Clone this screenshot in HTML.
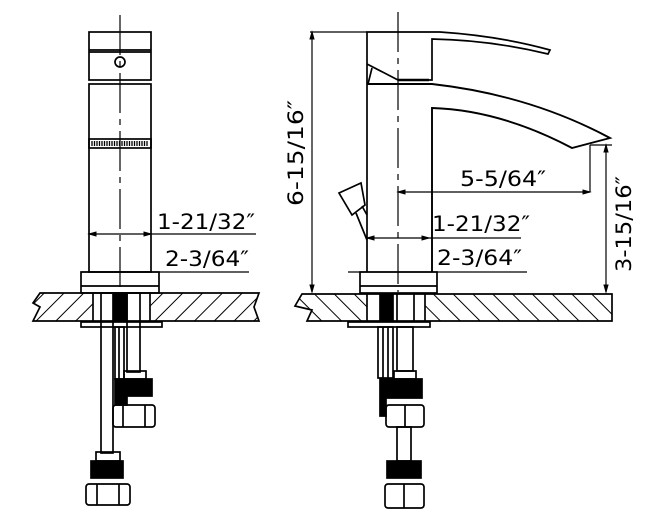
<!DOCTYPE html>
<html><head><style>
html,body{margin:0;padding:0;background:#fff;}
svg{display:block;}
text{font-family:"DejaVu Sans","Liberation Sans",sans-serif;font-size:21px;fill:#000;}
</style></head><body>
<svg width="669" height="522" viewBox="0 0 669 522" xmlns="http://www.w3.org/2000/svg">
<defs>
<pattern id="hl" width="14" height="14" patternUnits="userSpaceOnUse" patternTransform="rotate(45)">
<line x1="0" y1="0" x2="0" y2="14" stroke="#000" stroke-width="2"/></pattern>
<pattern id="hr" width="14" height="14" patternUnits="userSpaceOnUse" patternTransform="rotate(-45)">
<line x1="0" y1="0" x2="0" y2="14" stroke="#000" stroke-width="2"/></pattern>
</defs>
<g fill="none" stroke="#000" stroke-width="1.7">
<!-- LEFT VIEW -->
<line x1="120" y1="15" x2="120" y2="292" stroke-dasharray="40,6,6,6" stroke-width="1.2"/>
<rect x="89" y="32" width="62" height="48"/>
<line x1="89" y1="50" x2="151" y2="50"/>
<line x1="89" y1="52" x2="151" y2="52"/>
<circle cx="120" cy="62" r="5"/>
<rect x="89" y="84" width="62" height="188"/>
<rect x="89" y="139" width="62" height="9"/>
<g stroke-width="1.3">
<path d="M92 141 V146 M94.5 141 V146 M97 141 V146 M99.5 141 V146 M102 141 V146 M104.5 141 V146 M107 141 V146 M109.5 141 V146 M112 141 V146 M114.5 141 V146 M117 141 V146 M119.5 141 V146 M122 141 V146 M124.5 141 V146 M127 141 V146 M129.5 141 V146 M132 141 V146 M134.5 141 V146 M137 141 V146 M139.5 141 V146 M142 141 V146 M144.5 141 V146 M147 141 V146"/>
</g>
<line x1="89" y1="234" x2="256" y2="234" stroke-width="1.2"/>
<line x1="81" y1="272" x2="249" y2="272" stroke-width="1.2"/>
<rect x="81" y="272" width="78" height="21"/>
<line x1="81" y1="286" x2="159" y2="286"/>
<!-- left counter -->
<path d="M40 293 H93 V321 H33 L40 307 L33 303 Z" fill="url(#hl)"/>
<path d="M150 293 H259 L254 307 L259 321 H150 Z" fill="url(#hl)"/>
<line x1="93" y1="293" x2="150" y2="293"/>
<line x1="93" y1="321" x2="150" y2="321"/>
<rect x="81" y="322" width="81" height="5"/>
<rect x="101" y="293" width="12" height="160"/>
<rect x="114" y="293" width="13" height="28" fill="#000"/>
<rect x="127" y="293" width="13" height="79"/>
<rect x="115" y="327" width="9" height="52"/>
<line x1="119" y1="327" x2="119" y2="379"/>
<rect x="124" y="371" width="22" height="8"/>
<path d="M115 379 H152 V396 H127 V405 H115 Z" fill="#000"/>
<rect x="113" y="405" width="42" height="22" rx="3"/>
<line x1="123" y1="405" x2="123" y2="427"/><line x1="145" y1="405" x2="145" y2="427"/>
<rect x="96" y="452" width="24" height="9"/>
<rect x="91" y="461" width="32" height="17" fill="#000"/>
<rect x="86" y="484" width="44" height="21" rx="3"/>
<line x1="97" y1="484" x2="97" y2="505"/><line x1="119" y1="484" x2="119" y2="505"/>

<!-- RIGHT VIEW -->
<line x1="398" y1="12" x2="398" y2="292" stroke-dasharray="40,6,6,6" stroke-width="1.2"/>
<path d="M367 84 V32 H440 Q500 36 550 50 L548 54 Q490 40 432 39 V80 H398 L367 64"/>
<line x1="398" y1="80" x2="429" y2="80" stroke-width="2.4"/>
<line x1="372" y1="68" x2="368" y2="84"/>
<path d="M367 84 H432 Q530 95 610 138 L572 148 Q500 110 432 108 V272" stroke-width="1.9"/>
<line x1="367" y1="84" x2="367" y2="272"/>
<path d="M339 193 L361 183 L365 205 L352 215 Z"/>
<path d="M356 213 L367 240 M362 206 L367 215"/>
<!-- dims -->
<line x1="310" y1="32" x2="367" y2="32" stroke-width="1.2"/>
<line x1="312" y1="32" x2="312" y2="292" stroke-width="1.2"/>
<line x1="590" y1="145" x2="612" y2="145" stroke-width="1.2"/>
<line x1="606" y1="145" x2="606" y2="292" stroke-width="1.2"/>
<line x1="398" y1="192" x2="590" y2="192" stroke-width="1.2"/>
<line x1="590" y1="145" x2="590" y2="192" stroke-width="1.2"/>
<line x1="367" y1="238" x2="521" y2="238" stroke-width="1.2"/>
<line x1="348" y1="272" x2="527" y2="272" stroke-width="1.2"/>
<rect x="360" y="272" width="77" height="21"/>
<line x1="360" y1="286" x2="437" y2="286"/>
<!-- right counter -->
<path d="M302 294 H367 V321 H307 L312 310 L295 306 Z" fill="url(#hr)"/>
<path d="M425 294 H612 V321 H425 Z" fill="url(#hr)"/>
<line x1="367" y1="294" x2="425" y2="294"/>
<line x1="367" y1="321" x2="425" y2="321"/>
<rect x="348" y="322" width="82" height="5"/>
<rect x="380" y="294" width="13" height="27" fill="#000"/>
<line x1="397" y1="294" x2="397" y2="322"/><line x1="414" y1="294" x2="414" y2="322"/>
<rect x="378" y="327" width="15" height="51"/>
<line x1="383" y1="327" x2="383" y2="378"/><line x1="388" y1="327" x2="388" y2="378"/>
<rect x="397" y="327" width="16" height="44"/>
<rect x="394" y="371" width="22" height="8"/>
<path d="M380 379 H422 V398 H386 V416 H380 Z" fill="#000"/>
<rect x="386" y="405" width="38" height="22" rx="3"/>
<line x1="405" y1="405" x2="405" y2="427"/>
<rect x="397" y="427" width="14" height="34"/>
<rect x="387" y="461" width="34" height="17" fill="#000"/>
<rect x="385" y="484" width="39" height="24" rx="3"/>
<line x1="404" y1="484" x2="404" y2="508"/>
</g>
<g stroke="#000" stroke-width="1" fill="#000">
<path d="M89 234 l7 -2 v4z M151 234 l-7 -2 v4z M367 238 l7 -2 v4z M429 238 l-7 -2 v4z M398 192 l7 -2 v4z M590 192 l-7 -2 v4z M312 32 l-2 7 h4z M312 292 l-2 -7 h4z M606 145 l-2 7 h4z M606 292 l-2 -7 h4z"/>
</g>
<text x="157" y="229" textLength="98" lengthAdjust="spacingAndGlyphs">1-21/32″</text>
<text x="165" y="266" textLength="84" lengthAdjust="spacingAndGlyphs">2-3/64″</text>
<text x="460" y="186" textLength="86" lengthAdjust="spacingAndGlyphs">5-5/64″</text>
<text x="432" y="231" textLength="98" lengthAdjust="spacingAndGlyphs">1-21/32″</text>
<text x="437" y="265" textLength="85" lengthAdjust="spacingAndGlyphs">2-3/64″</text>
<text transform="translate(303,206) rotate(-90)" textLength="106" lengthAdjust="spacingAndGlyphs">6-15/16″</text>
<text transform="translate(631,272) rotate(-90)" textLength="96" lengthAdjust="spacingAndGlyphs">3-15/16″</text>
</svg>
</body></html>
